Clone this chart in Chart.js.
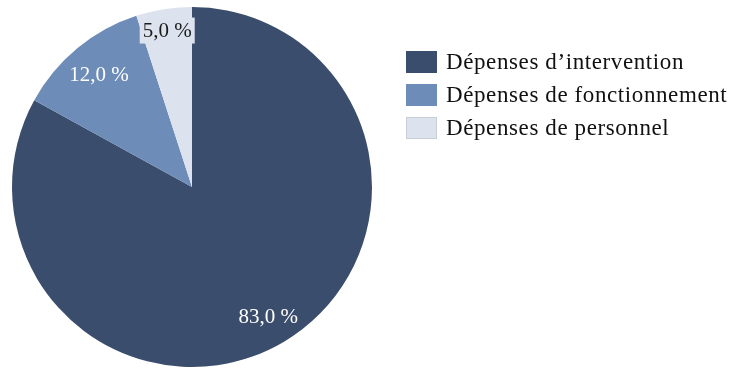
<!DOCTYPE html>
<html>
<head>
<meta charset="utf-8">
<script src="https://cdn.jsdelivr.net/npm/chart.js@4"></script>
<style>
  html, body { margin: 0; padding: 0; background: #fff; }
  #wrap { width: 732px; height: 368px; position: relative; }
</style>
</head>
<body>
<div id="wrap"><canvas id="chart"></canvas></div>
<script>
// Répartition des dépenses
const categories = ['Dépenses d\u2019intervention', 'Dépenses de fonctionnement', 'Dépenses de personnel'];
const shares = [83.0, 12.0, 5.0];

const sliceColors = ['#3a4d6c', '#6d8cb8', '#dde3ee'];
const labelColors = ['#ffffff', '#ffffff', '#1a1a1a'];
const labelRadius = [0.833, 0.81, 0.88];
const FONT = '"Liberation Serif", "Times New Roman", serif';

function fmt(v) {
    return v.toFixed(1).replace('.', ',') + ' %';
}

// étiquettes de valeur sur chaque part
const sliceLabels = {
    id: 'sliceLabels',
    afterDatasetsDraw(chart) {
        const ctx = chart.ctx;
        const meta = chart.getDatasetMeta(0);
        ctx.save();
        ctx.font = '21px ' + FONT;
        ctx.textAlign = 'center';
        ctx.textBaseline = 'middle';
        meta.data.forEach((arc, i) => {
            const p = arc.getProps(['x', 'y', 'startAngle', 'endAngle', 'outerRadius'], true);
            const mid = (p.startAngle + p.endAngle) / 2;
            const r = p.outerRadius * labelRadius[i];
            const x = p.x + Math.cos(mid) * r;
            const y = p.y + Math.sin(mid) * r;
            const txt = fmt(chart.data.datasets[0].data[i]);
            if (i === 2) {
                // petite part : fond de la couleur de la part
                const w = ctx.measureText(txt).width + 6;
                ctx.fillStyle = sliceColors[i];
                ctx.fillRect(x - w / 2, y - 13, w, 26);
            }
            ctx.fillStyle = labelColors[i];
            ctx.fillText(txt, x, y + 1);
        });
        ctx.restore();
    }
};

// légende à droite
const sideLegend = {
    id: 'sideLegend',
    afterDraw(chart) {
        const ctx = chart.ctx;
        ctx.save();
        ctx.font = '23px ' + FONT;
        ctx.letterSpacing = '0.6px';
        ctx.textBaseline = 'alphabetic';
        chart.data.labels.forEach((lab, i) => {
            const top = 51 + i * 33;
            ctx.fillStyle = sliceColors[i];
            ctx.fillRect(406, top, 31, 22);
            if (i === 2) {
                ctx.strokeStyle = '#c9ced6';
                ctx.lineWidth = 1;
                ctx.strokeRect(406.5, top + 0.5, 30, 21);
            }
            ctx.fillStyle = '#111';
            ctx.fillText(lab, 446, top + 18);
        });
        ctx.restore();
    }
};

new Chart(document.getElementById('chart'), {
    type: 'pie',
    data: {
        labels: categories,
        datasets: [{
            data: shares,
            backgroundColor: sliceColors,
            borderWidth: 0
        }]
    },
    options: {
        responsive: true,
        maintainAspectRatio: false,
        animation: false,
        layout: { padding: { left: 12, right: 360, top: 7, bottom: 1 } },
        plugins: {
            legend: { display: false },
            tooltip: { enabled: false }
        }
    },
    plugins: [sliceLabels, sideLegend]
});
</script>
</body>
</html>
